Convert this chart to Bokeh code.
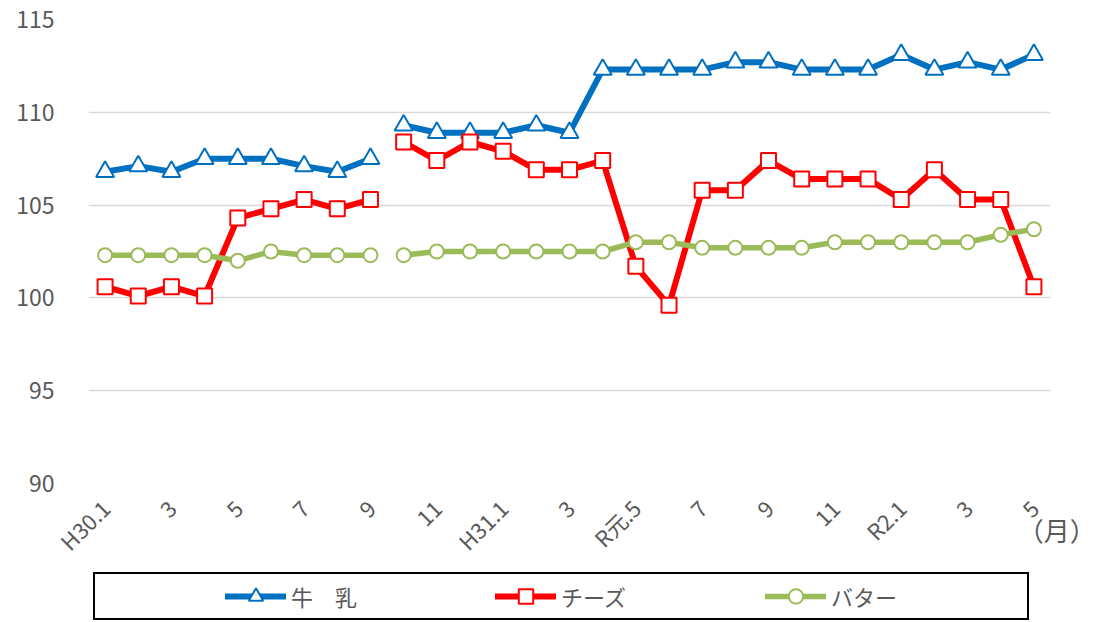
import numpy as np
from bokeh.plotting import figure
from bokeh.layouts import column
from bokeh.models import (ColumnDataSource, Legend, LegendItem, FixedTicker,
                          LinearAxis, Range1d)
from bokeh.embed import file_html
from bokeh.resources import INLINE

# ---- data ----
months = ["H30.1", "2", "3", "4", "5", "6", "7", "8", "9", "10", "11", "12",
          "H31.1", "2", "3", "4", "R元.5", "6", "7", "8", "9", "10", "11", "12",
          "R2.1", "2", "3", "4", "5"]
milk = [106.8, 107.1, 106.8, 107.5, 107.5, 107.5, 107.1, 106.8, 107.5,
        109.3, 108.9, 108.9, 108.9, 109.3, 108.9, 112.3, 112.3, 112.3, 112.3,
        112.7, 112.7, 112.3, 112.3, 112.3, 113.1, 112.3, 112.7, 112.3, 113.1]
cheese = [100.6, 100.1, 100.6, 100.1, 104.3, 104.8, 105.3, 104.8, 105.3,
          108.4, 107.4, 108.4, 107.9, 106.9, 106.9, 107.4, 101.7, 99.6, 105.8,
          105.8, 107.4, 106.4, 106.4, 106.4, 105.3, 106.9, 105.3, 105.3, 100.6]
butter = [102.3, 102.3, 102.3, 102.3, 102.0, 102.5, 102.3, 102.3, 102.3,
          102.3, 102.5, 102.5, 102.5, 102.5, 102.5, 102.5, 103.0, 103.0, 102.7,
          102.7, 102.7, 102.7, 103.0, 103.0, 103.0, 103.0, 103.0, 103.4, 103.7]
break_after = 9  # series break between H30.9 and H30.10
y_ticks = [90, 95, 100, 105, 110, 115]
unit_label = "\u3000（月）"
names = ["牛\u3000乳", "チーズ", "バター"]

FONT = "Noto Sans CJK JP"
TXT = "#595959"

x = list(range(len(months)))
unit_x = len(months) - 0.51  # the unit sits at the right end of the month axis

p1 = figure(width=1100, height=570, output_backend="svg", toolbar_location=None,
            x_range=(-0.5, len(months) - 0.5), y_range=(90, 115),
            min_border_left=88, min_border_right=50, min_border_top=19,
            min_border_bottom=82)
p1.outline_line_color = None
p1.background_fill_color = "white"
p1.border_fill_color = "white"

series = [(milk, "#0070C0", "triangle", 18), (cheese, "#FF0000", "square", 15),
          (butter, "#9BBB59", "circle", 14)]
for vals, col, mk, sz in series:
    segs = [(x[:break_after], vals[:break_after]), (x[break_after:], vals[break_after:])]
    for xs, ys in segs:
        src = ColumnDataSource(dict(x=xs, y=ys))
        lw = 6 if mk != "circle" else 5.5
        p1.line("x", "y", source=src, line_color=col, line_width=lw,
                line_join="round", line_cap="round")
        p1.scatter("x", "y", source=src, marker=mk, size=sz, fill_color="white",
                   line_color=col, line_width=2)

# y axis
p1.yaxis.ticker = FixedTicker(ticks=y_ticks)
p1.yaxis.axis_line_color = None
p1.yaxis.major_tick_line_color = None
p1.yaxis.minor_tick_line_color = None
p1.yaxis.major_label_text_font = FONT
p1.yaxis.major_label_text_font_size = "23px"
p1.yaxis.major_label_text_color = TXT
p1.yaxis.major_label_standoff = 28

# unit "（月）": single tick label of a bare axis placed next to the frame
UNIT_STANDOFF = 27
unit_axis = LinearAxis(ticker=FixedTicker(ticks=[unit_x]),
                       major_label_overrides={unit_x: unit_label},
                       major_label_orientation="horizontal",
                       major_label_standoff=UNIT_STANDOFF,
                       major_tick_out=0, major_tick_in=0,
                       major_label_text_font=FONT,
                       major_label_text_font_size="26px",
                       major_label_text_color=TXT,
                       axis_line_color=None, major_tick_line_color=None,
                       minor_tick_line_color=None)

# month axis (pulled back up so its labels start just under the frame)
xax = p1.xaxis[0]
xax.ticker = FixedTicker(ticks=x[::2])
xax.major_label_overrides = {i: months[i] for i in x[::2]}
xax.major_label_orientation = np.pi / 4
xax.axis_line_color = None
xax.major_tick_line_color = None
xax.minor_tick_line_color = None
xax.major_tick_out = 0
xax.major_tick_in = 0
xax.major_label_text_font = FONT
xax.major_label_text_font_size = "22px"
xax.major_label_text_color = TXT
xax.major_label_standoff = 16 - (UNIT_STANDOFF + 36)

p1.below = [unit_axis, xax]

p1.xgrid.grid_line_color = None
p1.ygrid.ticker = FixedTicker(ticks=y_ticks)
p1.ygrid.grid_line_color = "#d9d9d9"
p1.ygrid.grid_line_width = 1.5

# legend strip below the chart
p2 = figure(width=1100, height=52, output_backend="svg", toolbar_location=None,
            x_axis_location=None, y_axis_location=None, min_border=0,
            x_range=Range1d(-20, -19), y_range=Range1d(0, 1))
p2.outline_line_color = None
p2.xgrid.visible = False
p2.ygrid.visible = False
items = []
for (vals, col, mk, sz), nm in zip(series, names):
    lw = 6 if mk != "circle" else 5.5
    src = ColumnDataSource(dict(x=x, y=vals))  # lies outside this strip's view
    ln = p2.line("x", "y", source=src, line_color=col, line_width=lw, line_cap="round")
    sc = p2.scatter("x", "y", source=src, marker=mk, size=sz, fill_color="white",
                    line_color=col, line_width=2)
    items.append(LegendItem(label=nm, renderers=[ln, sc]))

legend = Legend(items=items, orientation="horizontal", location=(5, 2),
                title=" ", title_location="left", title_standoff=115,
                title_text_font_size="10px",
                label_text_font=FONT, label_text_font_size="22px",
                label_text_color=TXT, glyph_width=61, glyph_height=36,
                label_standoff=5, label_width=192, spacing=12, padding=4,
                margin=0,
                border_line_color="black", border_line_alpha=1.0,
                border_line_width=2,
                background_fill_color="white", background_fill_alpha=1.0)
p2.add_layout(legend)

p = column(p1, p2, spacing=0)
open("out.html", "w").write(file_html(p, INLINE))
